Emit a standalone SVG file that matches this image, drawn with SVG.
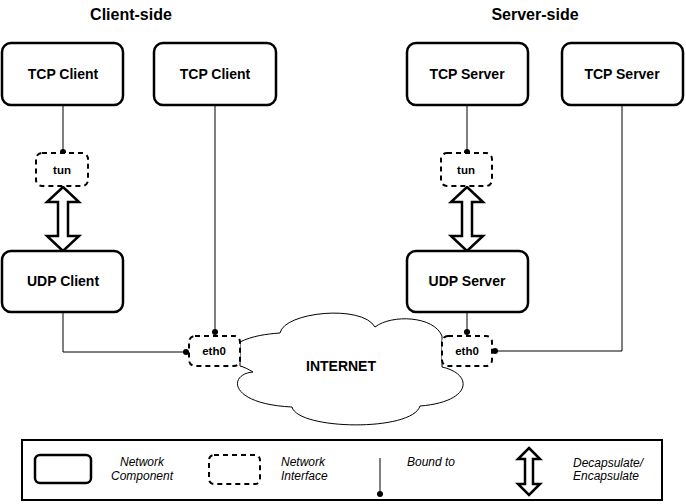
<svg xmlns="http://www.w3.org/2000/svg" width="686" height="504" viewBox="0 0 686 504">
<style>
text{font-family:"Liberation Sans",Arial,sans-serif;fill:#000}
.t{font-size:16px;font-weight:bold;text-anchor:middle}
.l{font-size:14px;font-weight:bold;text-anchor:middle}
.s{font-size:11.5px;font-weight:bold;text-anchor:middle}
.i{font-size:12px;font-style:italic}
.box{fill:#fff;stroke:#000;stroke-width:2.5}
.ifc{fill:#fff;stroke:#000;stroke-width:2;stroke-dasharray:5 4}
.ln{fill:none;stroke:#000;stroke-width:1}
.dot{fill:#000}
.arr{fill:#fff;stroke:#000;stroke-width:2.5;stroke-linejoin:miter}
.cloud{fill:#fff;stroke:#000;stroke-width:1}
</style>
<rect width="686" height="504" fill="#fff"/>
<text class="t" x="131" y="20">Client-side</text>
<text class="t" x="535" y="20">Server-side</text>

<g id="cloud">
<path class="cloud" d="M240,342 C252,336 266,334 280,333 C284,312 362,304 375,327 C392,314 434,316 442,336 L442,367 C474,374 472,402 420,406 C412,432 298,430 292,407 C228,404 228,374 253,372 C248,369 244,367 240,366 Z"/>
<text class="l" x="341" y="371">INTERNET</text>
</g>

<g id="connectors">
<line class="ln" x1="63" y1="105" x2="63" y2="152"/>
<circle class="dot" cx="63" cy="152" r="3"/>
<line class="ln" x1="467" y1="105" x2="467" y2="152"/>
<circle class="dot" cx="467" cy="152" r="3"/>
<polyline class="ln" points="63,312 63,352 186,352"/>
<circle class="dot" cx="186" cy="352" r="3"/>
<line class="ln" x1="215" y1="105" x2="215" y2="332"/>
<circle class="dot" cx="215" cy="332" r="3"/>
<line class="ln" x1="467" y1="312" x2="467" y2="332"/>
<circle class="dot" cx="467" cy="332" r="3"/>
<polyline class="ln" points="495,351 622,351 622,105"/>
<circle class="dot" cx="495" cy="351" r="3"/>
<polygon class="arr" points="63,187 79,202 68,202 68,236 79,236 63,251 47,236 58,236 58,202 47,202"/>
<polygon class="arr" points="467,187 483,202 472,202 472,236 483,236 467,251 451,236 462,236 462,202 451,202"/>
</g>

<g id="tcp-client-1"><rect class="box" x="2" y="43" width="121" height="62" rx="9"/><text class="l" x="63" y="79">TCP Client</text></g>
<g id="tcp-client-2"><rect class="box" x="154" y="43" width="122" height="62" rx="9"/><text class="l" x="215" y="79">TCP Client</text></g>
<g id="tcp-server-1"><rect class="box" x="407" y="43" width="121" height="62" rx="9"/><text class="l" x="467" y="79">TCP Server</text></g>
<g id="tcp-server-2"><rect class="box" x="562" y="43" width="121" height="62" rx="9"/><text class="l" x="622" y="79">TCP Server</text></g>
<g id="udp-client"><rect class="box" x="2" y="251" width="121" height="61" rx="9"/><text class="l" x="63" y="286">UDP Client</text></g>
<g id="udp-server"><rect class="box" x="407" y="251" width="121" height="61" rx="9"/><text class="l" x="467" y="286">UDP Server</text></g>
<g id="tun-client"><rect class="ifc" x="36" y="153" width="52" height="33" rx="6"/><text class="s" x="62" y="174">tun</text></g>
<g id="tun-server"><rect class="ifc" x="441" y="153" width="51" height="33" rx="6"/><text class="s" x="466" y="174">tun</text></g>
<g id="eth0-client"><rect class="ifc" x="189" y="336" width="51" height="30" rx="6"/><text class="s" x="214" y="355">eth0</text></g>
<g id="eth0-server"><rect class="ifc" x="442" y="336" width="50" height="30" rx="6"/><text class="s" x="467" y="355">eth0</text></g>

<g id="legend">
<rect x="22" y="440" width="640" height="60" fill="#fff" stroke="#000" stroke-width="2"/>
<rect class="box" x="35" y="455" width="56" height="28" rx="5"/>
<text class="i" x="142" y="466" text-anchor="middle">Network</text>
<text class="i" x="142" y="480" text-anchor="middle">Component</text>
<rect class="ifc" x="209" y="455" width="51" height="29" rx="5"/>
<text class="i" x="281" y="466">Network</text>
<text class="i" x="281" y="480">Interface</text>
<line class="ln" x1="380" y1="458" x2="380" y2="494"/>
<circle class="dot" cx="380" cy="494" r="3"/>
<text class="i" x="407" y="466">Bound to</text>
<polygon class="arr" points="529,448 540,459 533,459 533,484 540,484 529,495 518,484 525,484 525,459 518,459"/>
<text class="i" x="573" y="467">Decapsulate/</text>
<text class="i" x="573" y="480">Encapsulate</text>
</g>
</svg>
